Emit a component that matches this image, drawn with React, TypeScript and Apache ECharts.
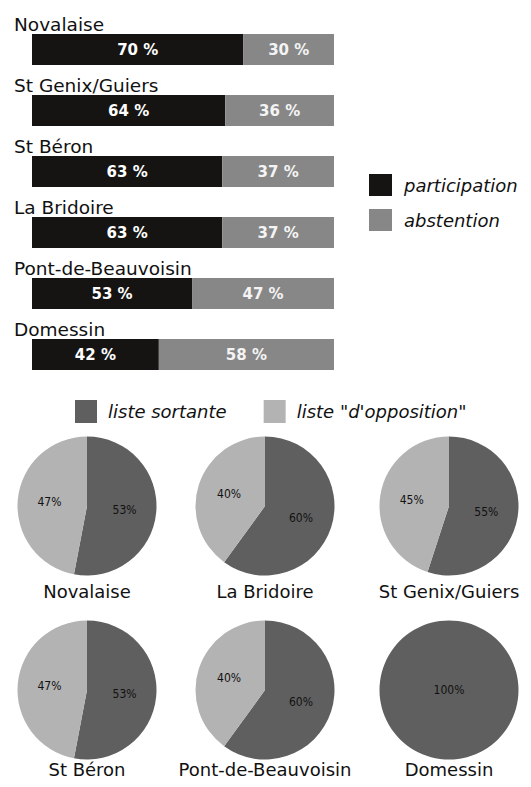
import React, { useEffect, useRef } from "react";
import * as echarts from "echarts";

const communes = ["Novalaise", "St Genix/Guiers", "St Béron", "La Bridoire", "Pont-de-Beauvoisin", "Domessin"];
const participation = [70, 64, 63, 63, 53, 42];
const abstention = [30, 36, 37, 37, 47, 58];

const pieCommunes = ["Novalaise", "La Bridoire", "St Genix/Guiers", "St Béron", "Pont-de-Beauvoisin", "Domessin"];
const listeSortante = [53, 60, 55, 53, 60, 100];
const listeOpposition = [47, 40, 45, 47, 40, 0];

const NAME_SORTANTE = "liste sortante";
const NAME_OPPOSITION = 'liste "d\'opposition"';

const FONT = "'DejaVu Sans', sans-serif";
const FONT_COND = "'DejaVu Sans Condensed', 'DejaVu Sans', sans-serif";

const pieCentersX = [87, 265, 449];
const pieCentersY = [506, 690];
const titleTops = [582, 760];

export default function App() {
  const ref = useRef<HTMLDivElement>(null);
  useEffect(() => {
    if (!ref.current) return;
    const chart = echarts.init(ref.current, undefined, { renderer: "svg" });

    const pieSeries = pieCommunes.map((name, i) => {
      const cx = pieCentersX[i % 3];
      const cy = pieCentersY[Math.floor(i / 3)];
      const data: any[] = [];
      const full = listeSortante[i] === 100 || listeOpposition[i] === 100;
      if (listeSortante[i] > 0)
        data.push({
          name: NAME_SORTANTE,
          value: listeSortante[i],
          label: full ? { position: "center" } : undefined,
        });
      if (listeOpposition[i] > 0)
        data.push({
          name: NAME_OPPOSITION,
          value: listeOpposition[i],
          label: full ? { position: "center" } : undefined,
        });
      return {
        type: "pie",
        name,
        center: [cx, cy],
        radius: 69.5,
        startAngle: 90,
        clockwise: true,
        silent: true,
        label: {
          show: true,
          position: "inside",
          formatter: "{c}%",
          color: "#111",
          fontSize: 12,
          fontFamily: FONT_COND,
        },
        labelLine: { show: false },
        itemStyle: { borderWidth: 0 },
        emphasis: { disabled: true },
        data,
      };
    });

    const titles = pieCommunes.map((name, i) => ({
      text: name,
      left: pieCentersX[i % 3],
      top: titleTops[Math.floor(i / 3)],
      textAlign: "center",
      padding: 0,
      textStyle: { fontFamily: FONT, fontSize: 18, fontWeight: "normal", color: "#111" },
    }));

    chart.setOption({
      animation: false,
      color: ["#5f5f5f", "#b3b3b3"],
      title: titles,
      legend: [
        {
          data: ["participation", "abstention"],
          orient: "vertical",
          left: 369,
          top: 174,
          padding: 0,
          icon: "rect",
          itemWidth: 23,
          itemHeight: 22,
          itemGap: 13,
          selectedMode: false,
          textStyle: {
            fontFamily: FONT,
            fontSize: 18,
            fontStyle: "italic",
            color: "#111",
            padding: [0, 0, 0, 7],
          },
        },
        {
          data: [NAME_SORTANTE, NAME_OPPOSITION],
          orient: "horizontal",
          left: 75,
          top: 400,
          padding: 0,
          icon: "rect",
          itemWidth: 22,
          itemHeight: 23,
          itemGap: 37,
          selectedMode: false,
          textStyle: {
            fontFamily: FONT,
            fontSize: 18,
            fontStyle: "italic",
            color: "#111",
            padding: [0, 0, 0, 6],
          },
        },
      ],
      grid: { left: 32, top: 19, width: 302, height: 366, containLabel: false },
      xAxis: { type: "value", min: 0, max: 100, show: false },
      yAxis: {
        type: "category",
        data: communes,
        inverse: true,
        axisLine: { show: false },
        axisTick: { show: false },
        splitLine: { show: false },
        axisLabel: {
          align: "left",
          margin: 18,
          verticalAlign: "bottom",
          padding: [0, 0, 16, 0],
          fontFamily: FONT,
          fontSize: 18.5,
          color: "#111",
        },
      },
      series: [
        {
          type: "bar",
          name: "participation",
          stack: "total",
          barWidth: 31,
          data: participation,
          itemStyle: { color: "#161413" },
          label: {
            show: true,
            position: "inside",
            formatter: "{c} %",
            color: "#fff",
            fontWeight: "bold",
            fontSize: 15,
            fontFamily: FONT,
          },
          silent: true,
        },
        {
          type: "bar",
          name: "abstention",
          stack: "total",
          barWidth: 31,
          data: abstention,
          itemStyle: { color: "#878787" },
          label: {
            show: true,
            position: "inside",
            formatter: "{c} %",
            color: "#f4f4f4",
            fontWeight: "bold",
            fontSize: 15,
            fontFamily: FONT,
          },
          silent: true,
        },
        ...pieSeries,
      ],
    });
    return () => chart.dispose();
  }, []);

  return (
    <div
      ref={ref}
      style={{ position: "fixed", left: 0, top: 0, width: 531, height: 787, background: "#fff" }}
    />
  );
}
